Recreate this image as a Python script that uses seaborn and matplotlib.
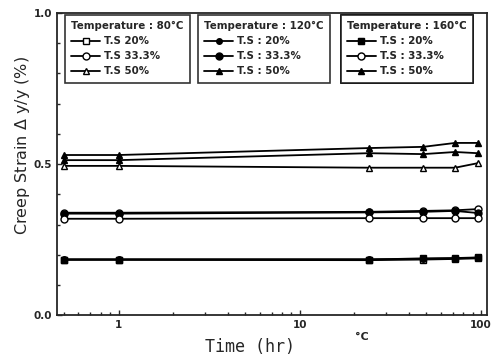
import matplotlib
matplotlib.use("Agg")
import matplotlib.pyplot as plt
import seaborn as sns
from matplotlib.ticker import FixedLocator, NullFormatter

time = [0.5, 1, 24, 48, 72, 96]
temps = ["80", "120", "160"]
ts_levels = ["20%", "33.3%", "50%"]

# creep strain per temperature, per T.S level
strain_80 = [
    [0.183, 0.183, 0.182, 0.184, 0.186, 0.188],
    [0.339, 0.339, 0.342, 0.345, 0.347, 0.351],
    [0.494, 0.494, 0.488, 0.488, 0.488, 0.503],
]
strain_120 = [
    [0.185, 0.185, 0.185, 0.186, 0.188, 0.190],
    [0.336, 0.336, 0.340, 0.342, 0.345, 0.338],
    [0.513, 0.513, 0.536, 0.533, 0.540, 0.536],
]
strain_160 = [
    [0.184, 0.184, 0.184, 0.188, 0.189, 0.191],
    [0.319, 0.319, 0.321, 0.321, 0.321, 0.321],
    [0.530, 0.530, 0.553, 0.557, 0.570, 0.570],
]
all_strain = [strain_80, strain_120, strain_160]

labels_80 = ["T.S 20%", "T.S 33.3%", "T.S 50%"]
labels_other = ["T.S : 20%", "T.S : 33.3%", "T.S : 50%"]

markers = [["s", "o", "^"], ["o", "o", "^"], ["s", "o", "^"]]
fills = [["white", "white", "white"], ["black", "black", "black"], ["black", "white", "black"]]
msizes = [[4, 5, 5], [4, 5, 5], [4, 5, 5]]

sns.set_style("ticks")
fig = plt.figure(figsize=(4.92, 3.61), dpi=100)
ax = fig.add_axes([0.116, 0.127, 0.874, 0.837])

handles = []
for i, t in enumerate(temps):
    hs = []
    labs = labels_80 if i == 0 else labels_other
    for j in range(3):
        sns.lineplot(x=time, y=all_strain[i][j], ax=ax, color="black", lw=1.3,
                     marker=markers[i][j], markersize=msizes[i][j],
                     markerfacecolor=fills[i][j], markeredgecolor="black",
                     markeredgewidth=1.0, label=labs[j], legend=False)
        hs.append(ax.lines[-1])
    handles.append(hs)

ax.set_xscale("log")
ax.set_xlim(0.458, 108)
ax.set_ylim(0, 1.0)
ax.set_xticks([1, 10, 100])
ax.set_xticklabels(["1", "10", "100"])
ax.xaxis.set_minor_formatter(NullFormatter())
ax.set_yticks([0.0, 0.5, 1.0])
ax.set_yticklabels(["0.0", "0.5", "1.0"])
ax.yaxis.set_minor_locator(FixedLocator([0.1, 0.2, 0.3, 0.4, 0.6, 0.7, 0.8, 0.9]))
ax.tick_params(which="both", direction="in", labelsize=7.5, width=1)
ax.tick_params(which="minor", length=2)
for lab in ax.get_xticklabels() + ax.get_yticklabels():
    lab.set_fontweight("bold")
for s in ax.spines.values():
    s.set_linewidth(1.3)
    s.set_visible(True)

ax.set_xlabel("Time (hr)", family="DejaVu Sans Mono", fontsize=12)
ax.xaxis.set_label_coords(0.449, -0.105)
ax.xaxis.label.set_va("center")
ax.set_ylabel("Creep Strain $\\Delta$ y/y (%)", fontsize=11.5)
ax.yaxis.set_label_coords(-0.08, 0.56)
ax.yaxis.label.set_va("center")
ax.text(0.709, -0.073, "°C", transform=ax.transAxes, fontsize=8,
        fontweight="bold", ha="center", va="center")

anchors = [(0.019, 0.994), (0.328, 0.994), (0.660, 0.994)]
for i, t in enumerate(temps):
    labs = labels_80 if i == 0 else labels_other
    leg = ax.legend(handles[i], labs, title="Temperature : " + t + "°C",
                    loc="upper left", bbox_to_anchor=anchors[i],
                    frameon=True, fancybox=False, edgecolor="black",
                    prop={"size": 7.4, "weight": "bold"},
                    title_fontproperties={"size": 7.4, "weight": "bold"},
                    handlelength=2.8, handletextpad=0.4, labelspacing=0.5,
                    borderpad=0.6, borderaxespad=0, alignment="left")
    leg.get_frame().set_linewidth(1.2)
    ax.add_artist(leg)

fig.savefig("out.png", dpi=100)
